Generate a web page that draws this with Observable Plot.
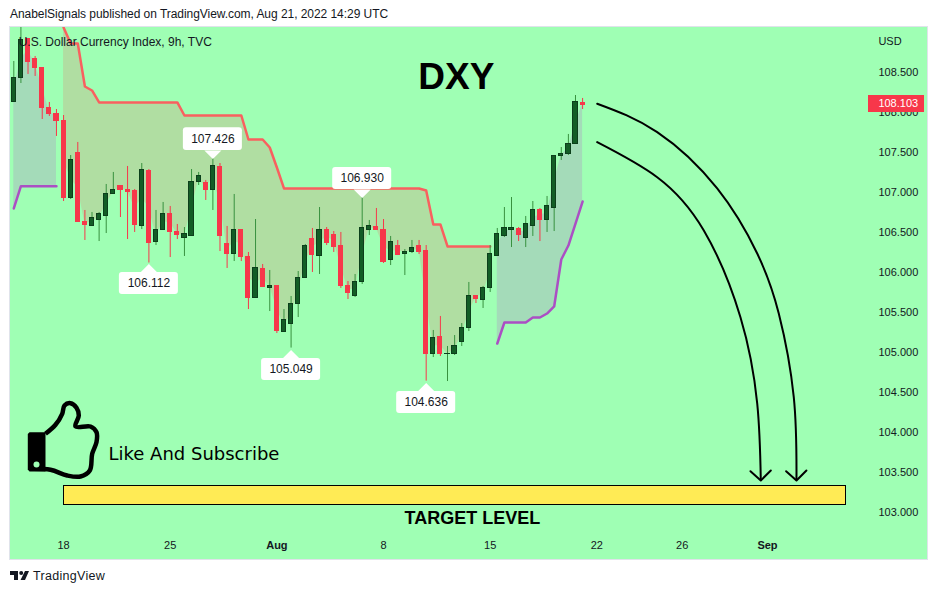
<!DOCTYPE html>
<html>
<head>
<meta charset="utf-8">
<script src="https://cdn.jsdelivr.net/npm/d3@7"></script>
<script src="https://cdn.jsdelivr.net/npm/@observablehq/plot@0.6"></script>
<style>
html,body{margin:0;padding:0;background:#fff;overflow:hidden;width:938px;height:595px;}
#head{position:absolute;left:10px;top:7px;font:12px "Liberation Sans",sans-serif;letter-spacing:-.05px;color:#131722;white-space:nowrap;}
#chart{position:absolute;left:10px;top:27px;outline:1px solid #e0e3eb;}
#foot{position:absolute;left:10px;top:569px;display:flex;align-items:center;gap:4px;font:12.5px "Liberation Sans",sans-serif;letter-spacing:.3px;color:#131722;}
</style>
</head>
<body>
<div id="head">AnabelSignals published on TradingView.com, Aug 21, 2022 14:29 UTC</div>
<div id="chart"></div>
<div id="foot"><svg width="19" height="10" viewBox="0 0 19 10"><path d="M0 0H8V9H4V4H0Z M15 0H19L15 9H10.5Z" fill="#131722"/><circle cx="11.2" cy="2" r="2" fill="#131722"/></svg><span>TradingView</span></div>
<script>
const opens=[108.131,108.431,108.919,108.669,108.556,108.056,107.981,107.894,106.919,107.494,106.631,106.581,106.656,106.706,106.981,107.081,107.031,107.019,106.569,107.269,106.369,106.531,106.731,106.506,106.431,106.456,107.119,107.119,107.019,107.319,106.356,106.219,106.531,106.194,105.669,106.044,105.806,105.831,105.256,105.344,105.594,105.931,106.419,106.206,106.531,106.469,106.331,105.831,105.694,105.881,106.531,106.569,106.531,106.144,106.331,106.231,106.244,106.331,106.269,104.969,105.194,104.969,104.981,105.131,105.294,105.706,105.656,105.794,106.206,106.456,106.531,106.544,106.431,106.581,106.781,106.656,106.806,107.444,107.481,107.606,108.119];
const closes=[108.431,108.906,108.619,108.544,108.044,107.969,107.881,106.919,107.406,106.619,106.581,106.669,106.719,106.981,107.031,107.019,106.994,106.581,107.269,106.356,106.531,106.731,106.494,106.456,106.469,107.131,107.194,107.019,107.319,106.444,106.219,106.531,106.181,105.669,106.044,105.806,105.831,105.256,105.394,105.606,105.919,106.331,106.206,106.531,106.356,106.306,105.819,105.731,105.869,106.544,106.569,106.519,106.119,106.369,106.206,106.256,106.294,106.244,104.969,105.181,104.969,104.981,105.081,105.294,105.706,105.656,105.806,106.219,106.481,106.544,106.544,106.456,106.594,106.781,106.644,106.819,107.456,107.481,107.606,108.119,108.085];
const highs=[108.631,109.056,108.919,108.694,108.556,108.119,108.031,107.956,107.456,107.619,106.769,106.744,106.744,107.094,107.244,107.081,107.319,107.031,107.356,107.281,106.769,106.869,106.819,106.594,106.556,107.281,107.244,107.144,107.426,107.356,106.569,106.969,106.531,106.244,106.656,106.094,106.019,105.831,105.531,105.694,106.006,106.344,106.544,106.806,106.556,106.506,106.494,105.881,105.969,106.930,106.644,106.794,106.656,106.444,106.394,106.281,106.394,106.394,106.331,105.269,105.444,105.069,105.206,105.356,105.869,105.706,105.819,106.331,106.544,106.806,106.931,106.556,106.694,106.881,106.794,106.944,107.456,107.556,107.719,108.206,108.169];
const lows=[108.131,108.356,108.469,108.444,107.906,107.944,107.694,106.881,106.906,106.619,106.394,106.569,106.381,106.481,106.981,106.681,106.406,106.494,106.531,106.112,106.331,106.531,106.181,106.406,106.194,106.444,107.081,106.894,106.769,106.256,106.044,106.131,106.131,105.531,105.669,105.806,105.506,105.231,105.256,105.049,105.431,105.931,105.994,105.969,106.331,106.244,105.794,105.656,105.681,105.844,106.456,106.519,106.106,106.081,106.206,105.956,106.231,106.219,104.636,104.931,104.944,104.631,104.956,105.069,105.256,105.606,105.544,105.744,106.206,106.431,106.306,106.381,106.306,106.444,106.381,106.494,106.506,107.394,107.456,107.606,108.031];

const upperBand=[109.056,108.856,108.856,108.319,108.269,108.119,108.119,108.119,108.119,108.119,108.119,108.119,108.119,108.119,108.119,108.119,108.119,107.956,107.956,107.956,107.956,107.956,107.956,107.956,107.956,107.956,107.656,107.656,107.656,107.556,107.306,107.044,107.044,107.044,107.044,107.044,107.044,107.044,107.044,107.044,107.044,107.044,107.044,107.044,107.044,107.044,107.044,107.044,107.044,107.044,107.044,107.019,106.594,106.594,106.319,106.319,106.319,106.319,106.319,106.319,106.319];
const upperStart=7;
const lowerBandA=[106.794,107.073,107.073,107.073,107.073,107.073,107.073];
const lowerStartA=0;
const lowerBandB=[105.106,105.369,105.369,105.369,105.369,105.431,105.431,105.481,105.569,106.156,106.331,106.606,106.881];
const lowerStartB=68;

const yTicks=[103,103.5,104,104.5,105,105.5,106,106.5,107,107.5,108,108.5];
const xTickPos=[7,22,52,67,82,94];
const xTickText=["18","25","8","15","22","26"];
const xBoldPos=[37,106];
const xBoldText=["Aug","Sep"];

const calloutText=["107.426","106.112","105.049","106.930","104.636"];
const calloutIndex=[28,19,39,49,58];
const calloutTop=[107.803,105.994,104.919,107.306,104.506];
const calloutBottom=[107.519,105.719,104.644,107.031,104.231];
const calloutDown=[true,false,false,true,false];

const arcOuterX=[82.05,90.49,98.93,104.56,107.59,109.7,110.08];
const arcOuterY=[108.103,107.748,107.044,106.231,105.481,104.435,103.406];
const arcInnerX=[82.05,90.49,97.05,102.2,104.56,105.06];
const arcInnerY=[107.623,107.185,106.519,105.435,104.356,103.403];
const headOuterX=[108.62,110.08,111.48];
const headInnerX=[103.61,105.06,106.47];
const headY=[103.51,103.394,103.519];

const targetLevel={i1:7.05,i2:117.07,top:103.331,bottom:103.09};

const bg="#9fffb4", red="#f7374a", bodyG="#135d26", edgeG="#0c3f1b", wickG="#38913f";
const candles=opens.map((o,i)=>({i,o,c:closes[i],h:highs[i],l:lows[i],mid:(o+closes[i])/2,up:closes[i]>=o}));
const bandRows=(band,start)=>band.map((b,k)=>({i:start+k,b,mid:candles[start+k].mid}));
const upperRows=bandRows(upperBand,upperStart);
const lowerA=bandRows(lowerBandA,lowerStartA);
const lowerB=bandRows(lowerBandB,lowerStartB);
const callouts=calloutText.map((t,k)=>({t,i:calloutIndex[k],top:calloutTop[k],bottom:calloutBottom[k],down:calloutDown[k]}));
const zip=(xs,ys)=>xs.map((x,k)=>({x,y:ys[k]}));

const font="Liberation Sans";
const tipDown={draw(c){c.moveTo(-8.5,0);c.lineTo(0,8.5);c.lineTo(8.5,0);c.closePath();}};
const tipUp={draw(c){c.moveTo(-8.5,0);c.lineTo(0,-8.5);c.lineTo(8.5,0);c.closePath();}};
const thumbPts=[[-19,-16.7],[-9,-25.7],[-2.3,-36.7],[0,-45],[6,-47.3],[12,-42.7],[14.3,-35],[11,-24],[26,-24],[32,-18.3],[32,-8.3],[27.7,3.3],[25.3,20],[16,26],[2.7,25],[-14,19.3],[-34.7,18.3]];
const thumb={draw(c){d3.line().curve(d3.curveCatmullRom).context(c)(thumbPts);}};
const cuff={draw(c){c.moveTo(-36.7,-16.5);c.lineTo(-35,-18.3);c.lineTo(-19,-18.3);c.lineTo(-19,21);c.lineTo(-35,21);c.lineTo(-36.7,19);c.closePath();}};
const cuffHole={draw(c){c.arc(-28,14,3,0,2*Math.PI);}};
const thumbAt=[{x:7.13,y:103.769}];

const plot=Plot.plot({
  width:917,height:532,
  marginLeft:0,marginRight:58,marginTop:0,marginBottom:23,
  style:{background:bg,fontFamily:font,overflow:"hidden"},
  x:{type:"linear",domain:[-0.464,120.35],axis:null},
  y:{type:"linear",domain:[102.694,109.056],axis:null},
  marks:[
    Plot.areaY(upperRows,{x:"i",y1:"mid",y2:"b",fill:"#b0dea2"}),
    Plot.areaY(lowerA,{x:"i",y1:"mid",y2:"b",fill:"#a4dbb9"}),
    Plot.areaY(lowerB,{x:"i",y1:"mid",y2:"b",fill:"#a4dbb9"}),
    Plot.line(upperRows,{x:"i",y:"b",stroke:"#f9605f",strokeWidth:2.5}),
    Plot.line(lowerA,{x:"i",y:"b",stroke:"#ab4fc4",strokeWidth:2.5}),
    Plot.line(lowerB,{x:"i",y:"b",stroke:"#ab4fc4",strokeWidth:2.5}),
    Plot.ruleX(candles,{x:"i",y1:"l",y2:"h",stroke:d=>d.up?wickG:red,strokeWidth:1}),
    Plot.rect(candles.filter(d=>!d.up),{x1:d=>d.i-0.36,x2:d=>d.i+0.36,y1:"o",y2:"c",fill:red,shapeRendering:"crispEdges"}),
    Plot.rect(candles.filter(d=>d.up),{x1:d=>d.i-0.3,x2:d=>d.i+0.3,y1:"o",y2:"c",fill:bodyG,stroke:edgeG,strokeWidth:1,shapeRendering:"crispEdges"}),

    Plot.rect(callouts,{x1:d=>d.i-4.15,x2:d=>d.i+4.15,y1:"bottom",y2:"top",fill:"white",rx:3}),
    Plot.dot(callouts.filter(d=>d.down),{x:"i",y:"bottom",symbol:tipDown,fill:"white"}),
    Plot.dot(callouts.filter(d=>!d.down),{x:"i",y:"top",symbol:tipUp,fill:"white"}),
    Plot.text(callouts,{x:"i",y:d=>(d.top+d.bottom)/2,text:"t",fontSize:12,fill:"#131722",fontFamily:font}),

    Plot.line(zip(arcOuterX,arcOuterY),{x:"x",y:"y",curve:"natural",stroke:"black",strokeWidth:2}),
    Plot.line(zip(arcInnerX,arcInnerY),{x:"x",y:"y",curve:"natural",stroke:"black",strokeWidth:2}),
    Plot.line(zip(headOuterX,headY),{x:"x",y:"y",stroke:"black",strokeWidth:2}),
    Plot.line(zip(headInnerX,headY),{x:"x",y:"y",stroke:"black",strokeWidth:2}),

    Plot.rect([targetLevel],{x1:"i1",x2:"i2",y1:"bottom",y2:"top",fill:"#ffeb55",stroke:"black",strokeWidth:1,shapeRendering:"crispEdges"}),
    Plot.text(["TARGET LEVEL"],{x:[64.5],y:[102.919],text:d=>d,fontSize:18,fontWeight:"bold",letterSpacing:"-0.2px",fontFamily:font,fill:"black"}),
    Plot.text(["DXY"],{x:[62.25],y:[108.43],text:d=>d,fontSize:37,fontWeight:"bold",fontFamily:font,fill:"black"}),
    Plot.text(["Like And Subscribe"],{x:[13.32],y:[103.72],text:d=>d,textAnchor:"start",fontSize:18,letterSpacing:"-0.05px",fontFamily:"DejaVu Sans",fill:"black"}),
    Plot.text(["U.S. Dollar Currency Index, 9h, TVC"],{x:[0.68],y:[108.875],text:d=>d,textAnchor:"start",fontSize:12,letterSpacing:"0.2px",fontFamily:font,fill:"#131722"}),
    Plot.text(["USD"],{x:[121.6],y:[108.88],text:d=>d,textAnchor:"start",fontSize:11,letterSpacing:"0.3px",fontFamily:font,fill:"#131722"}),

    Plot.dot(thumbAt,{x:"x",y:"y",symbol:thumb,fill:"none",stroke:"black",strokeWidth:4.5,strokeLinejoin:"round"}),
    Plot.dot(thumbAt,{x:"x",y:"y",symbol:cuff,fill:"black"}),
    Plot.dot(thumbAt,{x:"x",y:"y",symbol:cuffHole,fill:bg}),

    Plot.axisY({anchor:"right",ticks:yTicks,tickSize:0,tickPadding:9,tickFormat:d3.format(".3f"),label:null,fontSize:11,letterSpacing:"0.3px",fill:"#131722"}),
    Plot.axisX({anchor:"bottom",ticks:xTickPos,tickSize:0,tickPadding:5,label:null,tickFormat:d=>xTickText[xTickPos.indexOf(d)],fontSize:11,fill:"#131722"}),
    Plot.axisX({anchor:"bottom",ticks:xBoldPos,tickSize:0,tickPadding:5,label:null,tickFormat:d=>xBoldText[xBoldPos.indexOf(d)],fontSize:11,fontWeight:"bold",fill:"#131722"}),

    Plot.rect([{v:108.103}],{x1:120.2,x2:128.03,y1:d=>d.v-0.106,y2:d=>d.v+0.106,fill:red,shapeRendering:"crispEdges"}),
    Plot.text([108.103],{x:[121.6],y:d=>d,text:d3.format(".3f"),textAnchor:"start",fontSize:11,letterSpacing:"0.3px",fill:"white",fontFamily:font})
  ]
});
document.getElementById("chart").append(plot);
</script>
</body>
</html>
